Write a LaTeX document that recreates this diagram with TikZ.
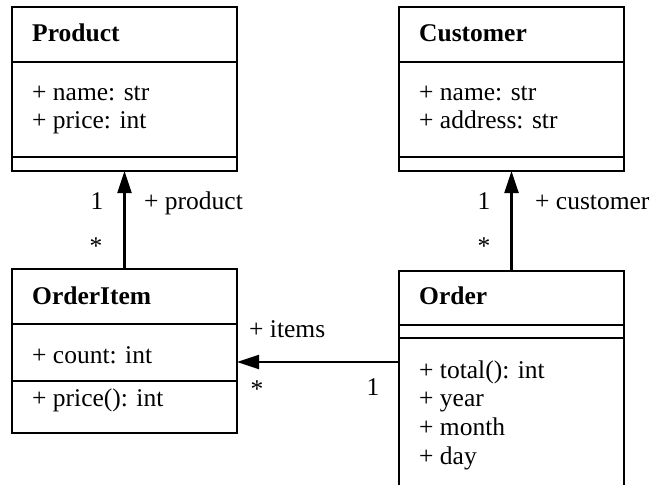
\documentclass[tikz,border=0pt]{standalone}
\usepackage{fontspec}
\setmainfont{Liberation Serif}
\usetikzlibrary{arrows.meta}

\tikzset{
  classbox/.style={draw, line width=1.2pt, anchor=north west, inner sep=0pt, outer sep=0pt},
  txt/.style={anchor=base west, inner sep=0pt, font=\fontsize{25.5}{29}\selectfont},
  ctxt/.style={anchor=base, inner sep=0pt, font=\fontsize{25.5}{29}\selectfont},
  title/.style={txt, font=\fontsize{25.5}{29}\selectfont\bfseries},
  divider/.style={line width=1.2pt},
  assoc/.style={line width=2.3pt, -{Triangle[length=22pt,width=14pt]}},
}

\begin{document}
\begin{tikzpicture}[x=1pt, y=-1pt]
\useasboundingbox (0,0) rectangle (652,484);
\clip (0,0) rectangle (652,484);

% Product
\node[classbox, minimum width=225pt, minimum height=164pt] (prod) at (12,7) {};
\draw[divider] (prod.west |- 0,62) -- (prod.east |- 0,62);
\draw[divider] (prod.west |- 0,157) -- (prod.east |- 0,157);
\node[title] (prodname) at (32,41.5) {Product};
\node[txt] (prodA1) at (32,101) {+ name: str};
\node[txt] (prodA2) at (32,128) {+ price: int};

% Customer
\node[classbox, minimum width=225pt, minimum height=164pt] (cust) at (399,7) {};
\draw[divider] (cust.west |- 0,62) -- (cust.east |- 0,62);
\draw[divider] (cust.west |- 0,157) -- (cust.east |- 0,157);
\node[title] (custname) at (419,41.5) {Customer};
\node[txt] (custA1) at (419,101) {+ name: str};
\node[txt] (custA2) at (419,128) {+ address: str};

% OrderItem
\node[classbox, minimum width=225pt, minimum height=164pt] (oi) at (12,269) {};
\draw[divider] (oi.west |- 0,324) -- (oi.east |- 0,324);
\draw[divider] (oi.west |- 0,381) -- (oi.east |- 0,381);
\node[title] (oiname) at (32,304) {OrderItem};
\node[txt] (oiA1) at (32,363) {+ count: int};
\node[txt] (oiM1) at (32,406) {+ price(): int};

% Order (continues below the page edge)
\node[classbox, minimum width=225pt, minimum height=240pt] (ord) at (399,271) {};
\draw[divider] (ord.west |- 0,325) -- (ord.east |- 0,325);
\draw[divider] (ord.west |- 0,338) -- (ord.east |- 0,338);
\node[title] (ordname) at (419,304) {Order};
\node[txt] (ordM1) at (419,378) {+ total(): int};
\node[txt] (ordM2) at (419,406.5) {+ year};
\node[txt] (ordM3) at (419,435.5) {+ month};
\node[txt] (ordM4) at (419,464) {+ day};

% Associations
\draw[assoc] (oi.north) -- (prod.south);
\node[ctxt] (m1) at (97,209) {1};
\node[txt] (r1) at (144,209) {+ product};
\node[ctxt] (m2) at (96,254) {*};

\draw[assoc] (ord.north -| cust.south) -- (cust.south);
\node[ctxt] (m3) at (484,209) {1};
\node[txt] (r2) at (535,209) {+ customer};
\node[ctxt] (m4) at (484,254) {*};

\coordinate (itemsrow) at (0,362);
\draw[assoc] (ord.west |- itemsrow) -- (oi.east |- itemsrow);
\node[txt] (r3) at (249,337) {+ items};
\node[ctxt] (m5) at (257,397) {*};
\node[ctxt] (m6) at (373,395) {1};
\end{tikzpicture}
\end{document}
